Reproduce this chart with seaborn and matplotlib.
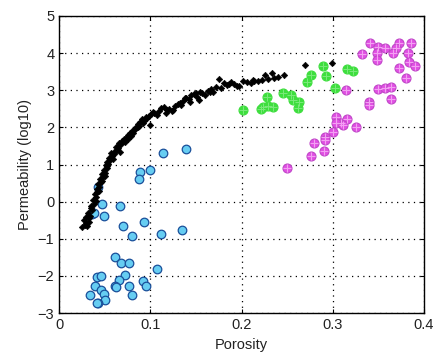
import matplotlib
matplotlib.use("Agg")
import matplotlib.pyplot as plt
import seaborn as sns
import pandas as pd

# --- data ---
black_x = [0.025, 0.028, 0.031, 0.033, 0.027, 0.030, 0.034, 0.032, 0.036, 0.035,
           0.038, 0.037, 0.040, 0.039, 0.042, 0.041, 0.044, 0.043, 0.046, 0.045,
           0.048, 0.047, 0.050, 0.049, 0.052, 0.051, 0.054, 0.053, 0.056, 0.055,
           0.058, 0.057, 0.060, 0.061, 0.063, 0.062, 0.065, 0.066, 0.068, 0.069,
           0.071, 0.072, 0.074, 0.075, 0.077, 0.078, 0.080, 0.081, 0.083, 0.084,
           0.086, 0.087, 0.089, 0.091, 0.093, 0.095, 0.098, 0.100, 0.101, 0.104,
           0.107, 0.110, 0.112, 0.115, 0.118, 0.121, 0.124, 0.127, 0.130, 0.133,
           0.136, 0.139, 0.142, 0.145, 0.148, 0.151, 0.154, 0.157, 0.160, 0.163,
           0.166, 0.169, 0.172, 0.175, 0.178, 0.181, 0.184, 0.188, 0.192, 0.197,
           0.202, 0.206, 0.210, 0.214, 0.218, 0.222, 0.226, 0.229, 0.233, 0.236,
           0.247, 0.270, 0.299, 0.103, 0.125, 0.138, 0.143, 0.153, 0.195, 0.029,
           0.035, 0.044, 0.050, 0.059, 0.064, 0.070, 0.076, 0.082, 0.088, 0.096,
           0.033, 0.040, 0.047, 0.053, 0.067, 0.079, 0.092, 0.117, 0.134, 0.150,
           0.165, 0.186, 0.212, 0.240]
black_y = [-0.68, -0.62, -0.66, -0.55, -0.48, -0.42, -0.38, -0.30, -0.22, -0.12,
           -0.05, 0.05, 0.12, 0.20, 0.25, 0.35, 0.40, 0.48, 0.52, 0.60,
           0.66, 0.74, 0.78, 0.86, 0.90, 0.98, 1.02, 1.08, 1.12, 1.18,
           1.22, 1.30, 1.28, 1.36, 1.40, 1.48, 1.50, 1.58, 1.55, 1.64,
           1.68, 1.60, 1.74, 1.80, 1.76, 1.86, 1.90, 1.84, 1.96, 2.02,
           2.00, 2.10, 2.14, 2.22, 2.18, 2.28, 2.30, 2.06, 2.36, 2.40,
           2.34, 2.45, 2.52, 2.56, 2.48, 2.50, 2.44, 2.58, 2.62, 2.66,
           2.72, 2.80, 2.76, 2.86, 2.90, 2.82, 2.96, 2.92, 2.88, 2.98,
           3.04, 2.96, 3.10, 3.30, 3.06, 3.20, 3.14, 3.22, 3.18, 3.12,
           3.26, 3.22, 3.20, 3.24, 3.26, 3.28, 3.40, 3.30, 3.46, 3.32,
           3.40, 3.68, 3.72, 2.42, 2.47, 2.78, 2.69, 2.74, 3.11, -0.58,
           -0.18, 0.30, 0.70, 1.15, 1.45, 1.62, 1.70, 1.92, 2.05, 2.26,
           -0.45, 0.02, 0.55, 0.95, 1.35, 1.78, 2.12, 2.40, 2.60, 2.92,
           2.94, 3.18, 3.28, 3.36]

cyan_x = [0.114, 0.139, 0.089, 0.100, 0.088, 0.043, 0.047, 0.067, 0.036, 0.049,
          0.093, 0.070, 0.080, 0.112, 0.135, 0.061, 0.068, 0.077, 0.107, 0.041,
          0.046, 0.072, 0.066, 0.092, 0.039, 0.061, 0.077, 0.095, 0.046, 0.034,
          0.080, 0.049, 0.050, 0.043, 0.041, 0.062, 0.038]
cyan_y = [1.32, 1.41, 0.80, 0.84, 0.60, 0.40, -0.07, -0.12, -0.32, -0.38,
          -0.54, -0.65, -0.93, -0.86, -0.75, -1.49, -1.65, -1.65, -1.80, -2.03,
          -1.99, -1.98, -2.12, -2.13, -2.28, -2.28, -2.28, -2.28, -2.37, -2.52,
          -2.52, -2.49, -2.65, -2.73, -2.73, -2.30, -0.30]

green_x = [0.202, 0.221, 0.224, 0.228, 0.229, 0.235, 0.245, 0.254, 0.256, 0.263,
           0.262, 0.272, 0.276, 0.289, 0.293, 0.302, 0.316, 0.322]
green_y = [2.46, 2.49, 2.56, 2.81, 2.57, 2.56, 2.93, 2.87, 2.75, 2.69,
           2.51, 3.23, 3.41, 3.65, 3.38, 3.07, 3.57, 3.52]

magenta_x = [0.341, 0.350, 0.357, 0.349, 0.349, 0.332, 0.373, 0.369, 0.366, 0.386,
             0.382, 0.384, 0.390, 0.373, 0.380, 0.350, 0.357, 0.364, 0.364, 0.340,
             0.340, 0.314, 0.303, 0.309, 0.316, 0.303, 0.325, 0.300, 0.291, 0.292,
             0.279, 0.290, 0.276, 0.250, 0.311]
magenta_y = [4.28, 4.17, 4.15, 4.01, 3.81, 3.98, 4.26, 4.13, 3.99, 4.26,
             4.01, 3.75, 3.65, 3.61, 3.34, 3.02, 3.05, 3.10, 2.76, 2.69,
             2.60, 3.01, 2.29, 2.11, 2.22, 2.12, 2.02, 1.88, 1.75, 1.66,
             1.57, 1.37, 1.23, 0.91, 2.06]

x_ticks = [0, 0.1, 0.2, 0.3, 0.4]
x_tick_labels = ["0", "0.1", "0.2", "0.3", "0.4"]
y_ticks = [-3, -2, -1, 0, 1, 2, 3, 4, 5]

black = pd.DataFrame({"Porosity": black_x, "Perm": black_y})
cyan = pd.DataFrame({"Porosity": cyan_x, "Perm": cyan_y})
green = pd.DataFrame({"Porosity": green_x, "Perm": green_y})
magenta = pd.DataFrame({"Porosity": magenta_x, "Perm": magenta_y})

sns.set_style("white")
plt.rcParams["font.family"] = ["Liberation Sans", "DejaVu Sans"]

fig = plt.figure(figsize=(4.38, 3.62), dpi=100)
ax = fig.add_axes([0.135, 0.135, 0.833, 0.821])

ax.grid(True, linestyle=(0, (1, 3.5)), color="black", linewidth=0.9, zorder=0)
ax.set_axisbelow(True)

sns.scatterplot(data=cyan, x="Porosity", y="Perm", ax=ax, marker="o", s=38,
                color="#66cdf2", edgecolor="#1a4f9a", linewidth=0.9, zorder=3)
sns.scatterplot(data=magenta, x="Porosity", y="Perm", ax=ax, marker="o", s=42,
                color="#e04fe3", edgecolor="#c048c8", linewidth=0.8, zorder=3)
sns.scatterplot(data=magenta, x="Porosity", y="Perm", ax=ax, marker="+", s=30,
                color="#f3a0f3", linewidth=0.8, zorder=4)
sns.scatterplot(data=green, x="Porosity", y="Perm", ax=ax, marker="o", s=42,
                color="#3ede3e", edgecolor="#3ede3e", linewidth=0.8, zorder=3)
sns.scatterplot(data=green, x="Porosity", y="Perm", ax=ax, marker="+", s=30,
                color="#7aea7a", linewidth=0.7, zorder=4)
sns.scatterplot(data=black, x="Porosity", y="Perm", ax=ax, marker="D", s=11,
                color="black", edgecolor="black", linewidth=0.4, zorder=5)

ax.set_xlim(0, 0.4)
ax.set_ylim(-3, 5)
ax.set_xticks(x_ticks)
ax.set_xticklabels(x_tick_labels)
ax.set_yticks(y_ticks)
ax.set_xlabel("Porosity", fontsize=10.5, color="#222222")
ax.set_ylabel("Permeability (log10)", fontsize=10.5, color="#222222")
ax.tick_params(axis="both", labelsize=10.5, direction="in", length=3,
               colors="black", labelcolor="#222222", bottom=True, left=True,
               top=True, right=True)
for sp in ax.spines.values():
    sp.set_visible(True)
    sp.set_color("black")
    sp.set_linewidth(1.0)

fig.savefig("out.png", dpi=100)
